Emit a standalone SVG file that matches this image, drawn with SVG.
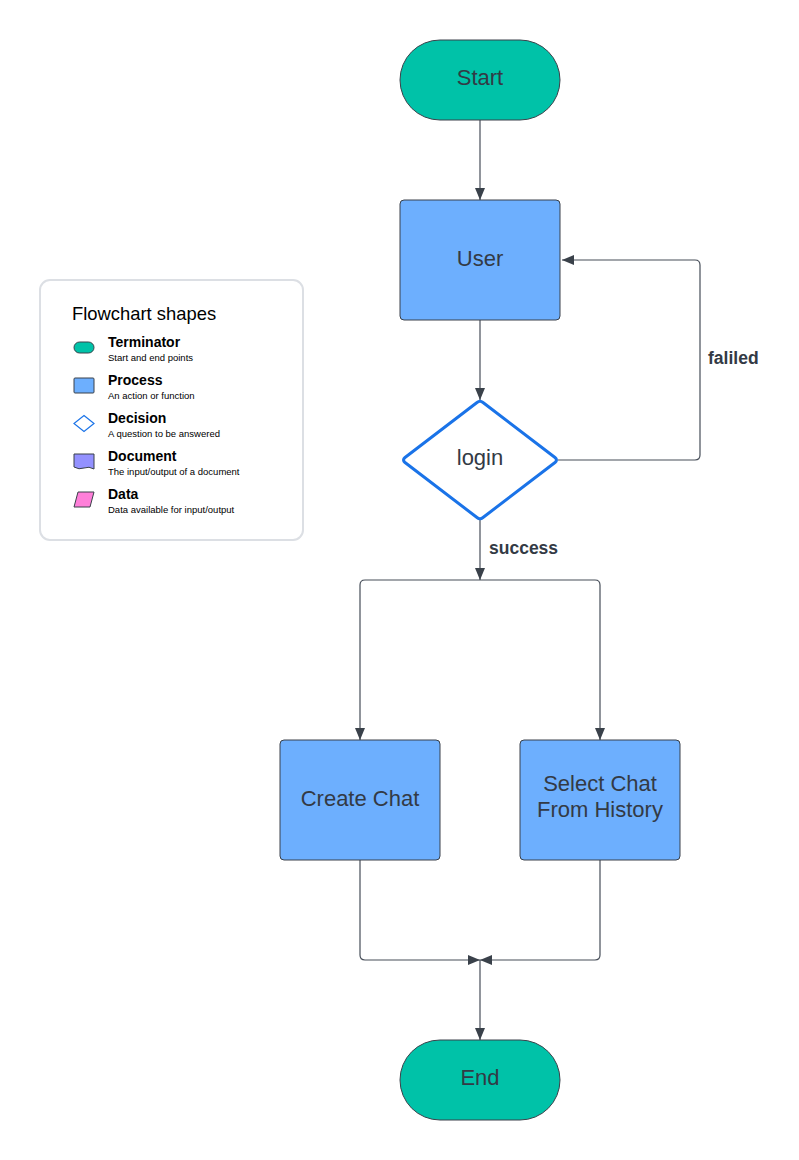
<svg xmlns="http://www.w3.org/2000/svg" width="799" height="1160" viewBox="0 0 799 1160">
<defs>
<style>
.term{fill:#00c2a8;stroke:#3a414a;stroke-width:1}
.proc{fill:#6daffe;stroke:#3a414a;stroke-width:1}
.lbl{font-family:"Liberation Sans",Arial,sans-serif;font-size:22px;fill:#333a45;text-anchor:middle}
.edge{fill:none;stroke:#474e59;stroke-width:1.2}
.elbl{font-family:"Liberation Sans",Arial,sans-serif;font-size:17.5px;font-weight:bold;fill:#333a45}
.lh{font-family:"Liberation Sans",Arial,sans-serif;font-size:14px;font-weight:bold;fill:#000}
.ls{font-family:"Liberation Sans",Arial,sans-serif;font-size:9.5px;fill:#000}
</style>
<marker id="arr" viewBox="0 0 12 12" refX="12" refY="6" markerWidth="12" markerHeight="12" markerUnits="userSpaceOnUse" orient="auto">
<path d="M0,1 L12,6 L0,11 Z" fill="#3a414a"/>
</marker>
</defs>
<rect width="799" height="1160" fill="#ffffff"/>

<g id="legend">
<rect x="40" y="280" width="263" height="260" rx="10" fill="#ffffff" stroke="#dcdfe4" stroke-width="2"/>
<text x="72" y="320" font-family="'Liberation Sans',Arial,sans-serif" font-size="18.4" fill="#000">Flowchart shapes</text>
<rect x="74" y="342" width="20" height="11" rx="5.5" fill="#00c2a8" stroke="#3a414a"/>
<text class="lh" x="108" y="347">Terminator</text>
<text class="ls" x="108" y="361">Start and end points</text>
<rect x="74" y="378" width="20" height="15" rx="1" fill="#6daffe" stroke="#3a414a"/>
<text class="lh" x="108" y="385">Process</text>
<text class="ls" x="108" y="399">An action or function</text>
<path d="M84,415.5 L94,423.5 L84,431.5 L74,423.5 Z" fill="#ffffff" stroke="#1a73e8" stroke-width="1.2"/>
<text class="lh" x="108" y="423">Decision</text>
<text class="ls" x="108" y="437">A question to be answered</text>
<path d="M74,454 H94 V469 Q89,466 84,468 Q79,470 74,467 Z" fill="#9391ff" stroke="#3a414a"/>
<text class="lh" x="108" y="461">Document</text>
<text class="ls" x="108" y="475">The input/output of a document</text>
<path d="M78,492 H94 L90,507 H74 Z" fill="#ff7fd9" stroke="#3a414a"/>
<text class="lh" x="108" y="499">Data</text>
<text class="ls" x="108" y="513">Data available for input/output</text>
</g>

<g id="connectors">
<path class="edge" d="M480,120 V200" marker-end="url(#arr)"/>
<path class="edge" d="M480,320 V400" marker-end="url(#arr)"/>
<path class="edge" d="M558,460 H695 Q700,460 700,455 V265 Q700,260 695,260 H562" marker-end="url(#arr)"/>
<path class="edge" d="M480,519 V580" marker-end="url(#arr)"/>
<path class="edge" d="M480,580 H365 Q360,580 360,585 V740" marker-end="url(#arr)"/>
<path class="edge" d="M480,580 H595 Q600,580 600,585 V740" marker-end="url(#arr)"/>
<path class="edge" d="M360,860 V955 Q360,960 365,960 H480" marker-end="url(#arr)"/>
<path class="edge" d="M600,860 V955 Q600,960 595,960 H480" marker-end="url(#arr)"/>
<path class="edge" d="M480,960 V1040" marker-end="url(#arr)"/>
<text class="elbl" x="708" y="364">faliled</text>
<text class="elbl" x="489" y="554">success</text>
</g>

<g id="start">
<rect class="term" x="400" y="40" width="160" height="80" rx="40"/>
<text class="lbl" x="480" y="85">Start</text>
</g>
<g id="user">
<rect class="proc" x="400" y="200" width="160" height="120" rx="4"/>
<text class="lbl" x="480" y="266">User</text>
</g>
<g id="login">
<path d="M477,402.5 Q480,400 483,402.5 L555,457.5 Q558,460 555,462.5 L483,517.5 Q480,520 477,517.5 L405,462.5 Q402,460 405,457.5 Z" fill="#ffffff" stroke="#1a73e8" stroke-width="3" stroke-linejoin="round"/>
<text class="lbl" x="480" y="465">login</text>
</g>
<g id="create-chat">
<rect class="proc" x="280" y="740" width="160" height="120" rx="4"/>
<text class="lbl" x="360" y="806">Create Chat</text>
</g>
<g id="select-chat">
<rect class="proc" x="520" y="740" width="160" height="120" rx="4"/>
<text class="lbl" x="600" y="791">Select Chat</text>
<text class="lbl" x="600" y="817">From History</text>
</g>
<g id="end">
<rect class="term" x="400" y="1040" width="160" height="80" rx="40"/>
<text class="lbl" x="480" y="1085">End</text>
</g>
</svg>
